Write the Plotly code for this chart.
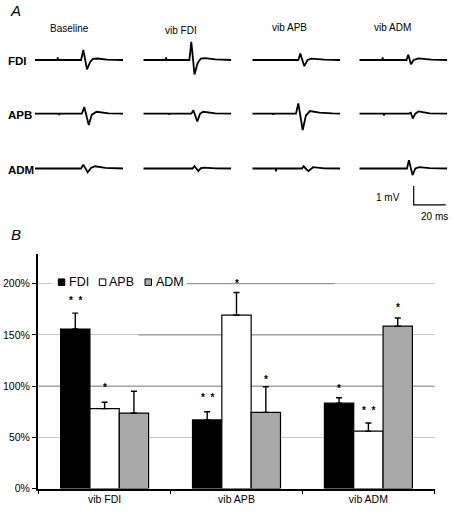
import plotly.graph_objects as go

W, H = 454, 516
FONT = "Arial, Liberation Sans, Helvetica, sans-serif"

# ---------------- Panel A data: MEP traces (time in ms, amplitude in mV) ----------------
MUSCLES = ["FDI", "APB", "ADM"]
CONDITIONS_A = ["Baseline", "vib FDI", "vib APB", "vib ADM"]

FDI_BASELINE = [(0, 0), (14.0, 0), (14.2, 0.14), (14.4, 0), (28.8, 0), (30.2, 0.53), (32.5, -0.50),
                (34.5, -0.10), (36.2, 0.06), (39, 0.08), (45, 0.02), (55, 0)]
FDI_VIBFDI = [(0, 0), (14.0, 0), (14.2, 0.14), (14.4, 0), (28.8, 0), (30.0, 0.97), (32.0, -0.77),
              (34.0, -0.15), (36.0, 0.08), (38.5, 0.10), (45, 0.03), (55, 0)]
FDI_VIBAPB = [(0, 0), (28.8, 0), (30.0, 0.35), (32.5, -0.33), (34.5, 0.0), (37.0, 0.07),
              (45, 0.02), (55, 0)]
FDI_VIBADM = [(0, 0), (14.4, 0), (14.6, 0.14), (14.8, 0), (29.5, 0), (30.6, 0.28), (32.3, -0.23),
              (34.0, 0.0), (37.0, 0.09), (45, 0.02), (55, 0)]

APB_BASELINE = [(0, 0), (15.0, 0), (15.2, -0.08), (15.4, 0), (29.3, 0), (30.8, 0.35), (33.6, -0.60),
                (35.5, -0.05), (38.5, 0.10), (46, 0.02), (55, 0)]
APB_VIBFDI = [(0, 0), (16.0, 0), (16.2, -0.05), (16.4, 0), (30.0, 0), (31.3, 0.18), (33.75, -0.42),
              (35.5, 0.0), (37.5, 0.10), (45, 0.02), (55, 0)]
APB_VIBAPB = [(0, 0), (13.0, 0), (13.2, -0.05), (13.4, 0), (27.3, 0), (28.75, 0.55), (31.5, -0.87),
              (33.5, -0.10), (36.0, 0.14), (42, 0.06), (50, 0.01), (55, 0)]
APB_VIBADM = [(0, 0), (15.2, 0), (15.4, -0.10), (15.6, 0), (31.0, 0), (32.2, 0.05), (33.4, -0.26),
              (35.0, 0.0), (37.0, 0.12), (44, 0.02), (55, 0)]

ADM_BASELINE = [(0, 0), (28.8, 0), (30.2, 0.21), (32.9, -0.20), (35.0, 0.03), (37.5, 0.12),
                (44, 0.03), (55, 0)]
ADM_VIBFDI = [(0, 0), (30.8, 0), (32.0, 0.12), (34.4, -0.14), (36.0, 0.02), (38.0, 0.05),
              (45, 0.01), (55, 0)]
ADM_VIBAPB = [(0, 0), (14.6, 0), (14.8, -0.15), (15.0, 0), (31.0, 0), (32.0, 0.12), (35.0, -0.14),
              (36.7, 0.0), (38.0, 0.07), (45, 0.01), (55, 0)]
ADM_VIBADM = [(0, 0), (29.8, 0), (31.0, 0.44), (33.3, -0.35), (35.0, 0.0), (37.5, 0.07),
              (44, 0.02), (55, 0)]

TRACES = [
    [FDI_BASELINE, FDI_VIBFDI, FDI_VIBAPB, FDI_VIBADM],
    [APB_BASELINE, APB_VIBFDI, APB_VIBAPB, APB_VIBADM],
    [ADM_BASELINE, ADM_VIBFDI, ADM_VIBAPB, ADM_VIBADM],
]

SCALE_MV = 1
SCALE_MS = 20

# ---------------- Panel B data: MEP amplitude (% of baseline) ----------------
CONDITIONS_B = ["vib FDI", "vib APB", "vib ADM"]
FDI_MEAN = [155.8, 67.0, 83.4]
FDI_ERR = [15.5, 8.0, 5.2]
APB_MEAN = [78.0, 169.4, 56.0]
APB_ERR = [6.3, 22.0, 8.0]
ADM_MEAN = [73.7, 74.4, 158.5]
ADM_ERR = [21.3, 25.0, 8.0]

FDI_STARS = ["**", "**", "*"]
FDI_STAR_Y = [186.5, 91.8, 100.5]
APB_STARS = ["*", "*", "**"]
APB_STAR_Y = [100.8, 203.0, 78.3]
ADM_STARS = ["", "*", "*"]
ADM_STAR_Y = [None, 109.0, 179.7]

Y_TICKS = [0, 50, 100, 150, 200]


# ---------------- helpers ----------------
def pxx(x):
    return x / W


def pxy(y):
    return 1 - y / H


fig = go.Figure()

# ---------------- Panel A ----------------
MS_TO_PX = 1.6
MV_TO_PX = 19.0
COL_START = [35.0, 143.3, 252.3, 359.3]
TRACE_MS = 55.0
ROW_BASE = [60.7, 115.0, 170.5]
ROW_HALF_MV = 1.3

for r in range(3):
    for c in range(4):
        pts = TRACES[r][c]
        fig.add_trace(go.Scatter(
            x=[p[0] for p in pts], y=[p[1] for p in pts],
            mode="lines", line=dict(color="black", width=1.8),
            xaxis="x%d" % (c + 2), yaxis="y%d" % (r + 2),
            showlegend=False, hoverinfo="skip"))

# scale bar in column-4 coordinates
SB_T0 = 34.0
fig.add_trace(go.Scatter(
    x=[SB_T0, SB_T0, SB_T0 + SCALE_MS], y=[SCALE_MV, 0, 0],
    mode="lines", line=dict(color="black", width=1.2),
    xaxis="x5", yaxis="y5", showlegend=False, hoverinfo="skip"))

layout_axes = {}
for c in range(4):
    x0 = COL_START[c]
    layout_axes["xaxis%d" % (c + 2)] = dict(
        domain=[pxx(x0), pxx(x0 + TRACE_MS * MS_TO_PX)], range=[0, TRACE_MS],
        visible=False, anchor="y2", fixedrange=True)
for r in range(3):
    b = ROW_BASE[r]
    half = ROW_HALF_MV * MV_TO_PX
    layout_axes["yaxis%d" % (r + 2)] = dict(
        domain=[pxy(b + half), pxy(b - half)], range=[-ROW_HALF_MV, ROW_HALF_MV],
        visible=False, anchor="x2", fixedrange=True)
SB_BASE = 207.3
layout_axes["yaxis5"] = dict(
    domain=[pxy(SB_BASE + 0.5 * MV_TO_PX), pxy(SB_BASE - 1.5 * MV_TO_PX)], range=[-0.5, 1.5],
    visible=False, anchor="x5", fixedrange=True)

annotations = []
# panel letters
annotations.append(dict(text="<i>A</i>", x=pxx(8), y=pxy(11), xref="paper", yref="paper",
                        xanchor="left", yanchor="middle", showarrow=False,
                        font=dict(family=FONT, size=15, color="black")))
annotations.append(dict(text="<i>B</i>", x=pxx(9), y=pxy(237), xref="paper", yref="paper",
                        xanchor="left", yanchor="middle", showarrow=False,
                        font=dict(family=FONT, size=15, color="black")))
# column titles
COL_TITLE_X = [69, 181, 289, 392]
COL_TITLE_Y = [29, 31, 28, 28]
for c in range(4):
    annotations.append(dict(text=CONDITIONS_A[c], x=pxx(COL_TITLE_X[c]), y=pxy(COL_TITLE_Y[c]),
                            xref="paper", yref="paper", xanchor="center", yanchor="middle",
                            showarrow=False, font=dict(family=FONT, size=10, color="black")))
# row labels
for r in range(3):
    annotations.append(dict(text="<b>%s</b>" % MUSCLES[r], x=pxx(6), y=pxy(ROW_BASE[r] + 1),
                            xref="paper", yref="paper", xanchor="left", yanchor="middle",
                            showarrow=False, font=dict(family=FONT, size=11.5, color="black")))
# scale bar labels
annotations.append(dict(text="%g mV" % SCALE_MV, x=SB_T0, y=SCALE_MV * 0.4, xref="x5", yref="y5",
                        xanchor="right", yanchor="middle", xshift=-12, showarrow=False,
                        font=dict(family=FONT, size=10, color="black")))
annotations.append(dict(text="%g ms" % SCALE_MS, x=SB_T0 + SCALE_MS / 2, y=0, xref="x5", yref="y5",
                        xanchor="center", yanchor="top", xshift=5, yshift=-4, showarrow=False,
                        font=dict(family=FONT, size=10, color="black")))

# ---------------- Panel B ----------------
BARGAP = 0.333
BAR_W = (1 - BARGAP) / 3
series = [
    ("FDI", FDI_MEAN, FDI_ERR, "black", FDI_STARS, FDI_STAR_Y),
    ("APB", APB_MEAN, APB_ERR, "white", APB_STARS, APB_STAR_Y),
    ("ADM", ADM_MEAN, ADM_ERR, "#a9a9a9", ADM_STARS, ADM_STAR_Y),
]
for k, (name, mean, err, color, stars, stary) in enumerate(series):
    fig.add_trace(go.Bar(
        name=name, x=CONDITIONS_B, y=mean,
        marker=dict(color=color, line=dict(color="black", width=1.2)),
        error_y=dict(type="data", symmetric=False, array=err, arrayminus=[0] * len(err),
                     color="black", thickness=1.4, width=3),
        xaxis="x", yaxis="y", showlegend=False, hoverinfo="skip"))
    off = (k - 1) * BAR_W
    for i, s in enumerate(stars):
        if s:
            annotations.append(dict(text="<b>" + "\u00a0\u00a0".join(list(s)) + "</b>",
                                    x=i + off, y=stary[i],
                                    xref="x", yref="y", xanchor="center", yanchor="middle",
                                    yshift=-2.5, showarrow=False,
                                    font=dict(family=FONT, size=10, color="black")))

PB_LEFT, PB_RIGHT, PB_BOTTOM, PB_TOP = 38.0, 435.0, 494.3, 257.0
Y_MAX = 229

shapes = []
# white background behind the legend (between grid and bars)
shapes.append(dict(type="rect", xref="x", yref="y", x0=-0.394, x1=0.62, y0=194, y1=207,
                   fillcolor="white", line=dict(width=0), layer="between"))
# darker segments of grid lines as in the original print
for (gx0, gx1, gy) in [(0.256, 2.108, 150), (0.626, 1.745, 200), (-0.5, 2.5, 100)]:
    shapes.append(dict(type="line", xref="x", yref="y", x0=gx0, x1=gx1, y0=gy, y1=gy,
                       line=dict(color="#999999", width=1.3), layer="between"))

# manual legend
LEG = [("FDI", "black", 58.3, 68.0), ("APB", "white", 99.3, 108.3), ("ADM", "#a9a9a9", 145.0, 155.0)]
LEG_Y = 285.5
for name, color, sx, tx in LEG:
    shapes.append(dict(type="rect", xref="paper", yref="paper",
                       x0=pxx(sx), x1=pxx(sx + 6.5), y0=pxy(LEG_Y + 3.3), y1=pxy(LEG_Y - 3.3),
                       fillcolor=color, line=dict(color="black", width=1)))
    annotations.append(dict(text=name, x=pxx(tx - 1), y=pxy(LEG_Y), xref="paper", yref="paper",
                            xanchor="left", yanchor="middle", showarrow=False,
                            font=dict(family=FONT, size=12.5, color="black")))

fig.update_layout(
    width=W, height=H, margin=dict(l=0, r=0, t=0, b=0),
    paper_bgcolor="white", plot_bgcolor="white",
    barmode="group", bargap=BARGAP, bargroupgap=0,
    showlegend=False,
    xaxis=dict(domain=[pxx(PB_LEFT), pxx(PB_RIGHT)], anchor="y", type="category",
               showline=True, linecolor="black", linewidth=1.5, mirror=False,
               ticks="outside", tickson="boundaries", ticklen=4, tickcolor="black", tickwidth=1,
               showgrid=False, fixedrange=True,
               tickfont=dict(family=FONT, size=10.5, color="black")),
    yaxis=dict(domain=[pxy(PB_BOTTOM), pxy(PB_TOP)], anchor="x", range=[0, Y_MAX],
               tickvals=Y_TICKS, ticktext=["%d%%" % v for v in Y_TICKS],
               showline=True, linecolor="black", linewidth=2,
               ticks="outside", ticklen=4, tickcolor="black", tickwidth=1,
               showgrid=True, gridcolor="#c8c8c8", gridwidth=1, zeroline=False, fixedrange=True,
               tickfont=dict(family=FONT, size=10.5, color="black")),
    annotations=annotations,
    shapes=shapes,
    **layout_axes,
)

fig.write_html("out.html", config={"displayModeBar": False},
               post_script="document.body.style.margin='0px';")
